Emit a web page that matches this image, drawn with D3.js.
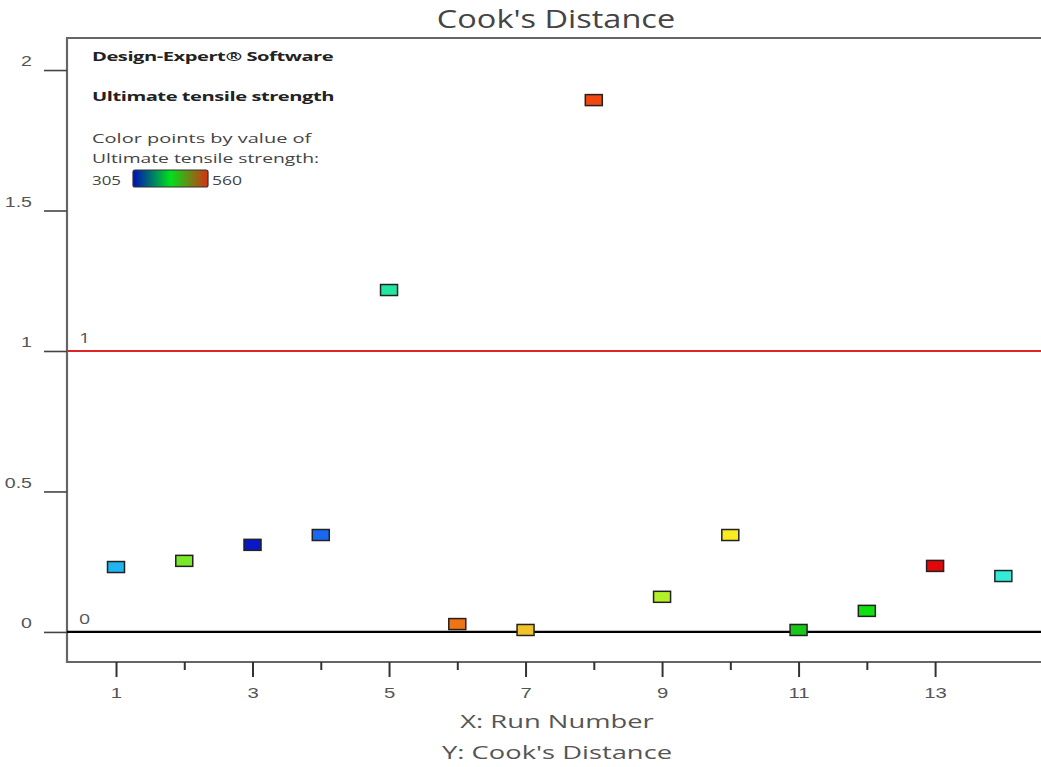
<!DOCTYPE html>
<html><head><meta charset="utf-8">
<script src="https://cdn.jsdelivr.net/npm/d3@7"></script>
<style>
body{margin:0;background:#fff;}
svg{display:block;font-family:"Open Sans","Noto Sans",sans-serif;}
</style></head>
<body>
<svg id="chart" width="1041" height="767"></svg>
<script>
// ---- data ----
const runNumbers = [1,2,3,4,5,6,7,8,9,10,11,12,13,14];
const cooksDistance = [0.231,0.253,0.310,0.345,1.217,0.028,0.007,1.893,0.125,0.345,0.007,0.075,0.235,0.199];
// estimated response values (Ultimate tensile strength) used for point colouring
const tensileStrength = [355,450,305,330,400,525,505,540,470,490,425,432,560,380];
const yTicks = [0,0.5,1,1.5,2];
const yTickLabels = ["0","0.5","1","1.5","2"];
const xTicksMajor = [1,3,5,7,9,11,13];
const xTicksMinor = [2,4,6,8,10,12];
const refLines = [0,1];
const strengthRange = [305,560];

// ---- layout ----
const svg = d3.select("#chart");
const pL=67, pT=38, pB=662, pR=1060;
const x = d3.scaleLinear().domain([0.282,14.83]).range([pL,pR]);
const y = d3.scaleLinear().domain([-0.107,2.114]).range([pB,pT]);

const colorStops = [
 [305,"#0818c8"],[330,"#1868f0"],[355,"#20b4f0"],[380,"#30ecd8"],[400,"#20e6a0"],
 [425,"#18c818"],[432,"#10e010"],[450,"#78e828"],[470,"#b4f028"],[490,"#f8ec20"],
 [505,"#f0c428"],[525,"#f07414"],[540,"#f04810"],[560,"#e00808"]];
const color = d3.scaleLinear().domain(colorStops.map(d=>d[0])).range(colorStops.map(d=>d[1]));

// text with horizontal stretch (reference glyphs are widened)
function stext(parent, tx, ty, sx, str, size, anchor){
  return parent.append("text")
    .attr("transform",`translate(${tx},${ty}) scale(${sx},1)`)
    .attr("text-anchor",anchor||"start").attr("font-size",size).text(str);
}

// title
stext(svg,556,28,1.3,"Cook's Distance",25,"middle").attr("fill","#444");

// frame
svg.append("path").attr("d",`M${pR},${pT}H${pL}V${pB}H${pR}`)
  .attr("fill","none").attr("stroke","#666").attr("stroke-width",2.2);

// y axis ticks
const ySx = 1.35;
const yAxis = d3.axisLeft(y).tickValues(yTicks).tickSize(23).tickPadding(13)
  .tickFormat((d,i)=>yTickLabels[i]);
const gy = svg.append("g").attr("transform",`translate(${pL},0)`).call(yAxis);
gy.select(".domain").remove();
gy.selectAll(".tick line").attr("stroke","#444").attr("stroke-width",1.6);
gy.selectAll(".tick text").attr("font-size",14.5).attr("fill","#555").attr("dy","-0.3em")
  .attr("x",-35/ySx).attr("transform",`scale(${ySx},1)`);

// x axis ticks
const xAxis = d3.axisBottom(x).tickValues(xTicksMajor).tickSize(15).tickPadding(11).tickFormat(d3.format("d"));
const gx = svg.append("g").attr("transform",`translate(0,${pB})`).call(xAxis);
gx.select(".domain").remove();
gx.selectAll(".tick line").attr("stroke","#333").attr("stroke-width",2);
gx.selectAll(".tick text").attr("font-size",14.5).attr("fill","#555").attr("transform","scale(1.4,1)");
const gxm = svg.append("g").attr("transform",`translate(0,${pB})`)
  .call(d3.axisBottom(x).tickValues(xTicksMinor).tickSize(8).tickFormat(""));
gxm.select(".domain").remove();
gxm.selectAll(".tick line").attr("stroke","#333").attr("stroke-width",2);

// axis titles
stext(svg,557,728,1.44,"X: Run Number",19,"middle").attr("fill","#555");
stext(svg,557,759,1.44,"Y: Cook's Distance",19,"middle").attr("fill","#555");

// reference lines
svg.selectAll("line.ref").data(refLines).enter().append("line").attr("class","ref")
  .attr("x1",pL).attr("x2",pR).attr("y1",d=>y(d)).attr("y2",d=>y(d))
  .attr("stroke",d=>d===1?"#e02424":"#000").attr("stroke-width",2.2);
refLines.forEach(v=>{
  stext(svg,79,y(v)-8,1.4,String(v),14,"start").attr("fill","#555");
});

// points
const pw=17, ph=11;
svg.selectAll("rect.pt").data(runNumbers).enter().append("rect").attr("class","pt")
  .attr("x",(d)=>x(d)-pw/2).attr("y",(d,i)=>y(cooksDistance[i])-ph/2)
  .attr("width",pw).attr("height",ph)
  .attr("fill",(d,i)=>color(tensileStrength[i]))
  .attr("stroke","#222").attr("stroke-width",1.5);

// legend
const lg = svg.append("g");
stext(lg,92,61,1.55,"Design-Expert\u00AE Software",13,"start").attr("font-weight","bold").attr("fill","#222").attr("letter-spacing",-0.3);
stext(lg,92,101,1.55,"Ultimate tensile strength",13,"start").attr("font-weight","bold").attr("fill","#222").attr("letter-spacing",-0.3);
stext(lg,92,143,1.48,"Color points by value of",13.5,"start").attr("fill","#444");
stext(lg,92,163,1.43,"Ultimate tensile strength:",13.5,"start").attr("fill","#444");
stext(lg,92,185,1.25,String(strengthRange[0]),13.5,"start").attr("fill","#444");
stext(lg,212,185,1.3,String(strengthRange[1]),13.5,"start").attr("fill","#444");
const defs = svg.append("defs");
const grad = defs.append("linearGradient").attr("id","lgGrad");
const gStops=[["0%","#0010b8"],["50%","#00e01c"],["100%","#d83010"]];
grad.selectAll("stop").data(gStops).enter().append("stop")
  .attr("offset",d=>d[0]).attr("stop-color",d=>d[1]);
const lgScale = d3.scaleLinear().domain(strengthRange).range([133,208]);
lg.append("rect").attr("x",lgScale(strengthRange[0])).attr("y",170)
  .attr("width",lgScale(strengthRange[1])-lgScale(strengthRange[0])).attr("height",17)
  .attr("rx",2).attr("fill","url(#lgGrad)").attr("stroke","#333").attr("stroke-width",1.2);
</script>
</body></html>
